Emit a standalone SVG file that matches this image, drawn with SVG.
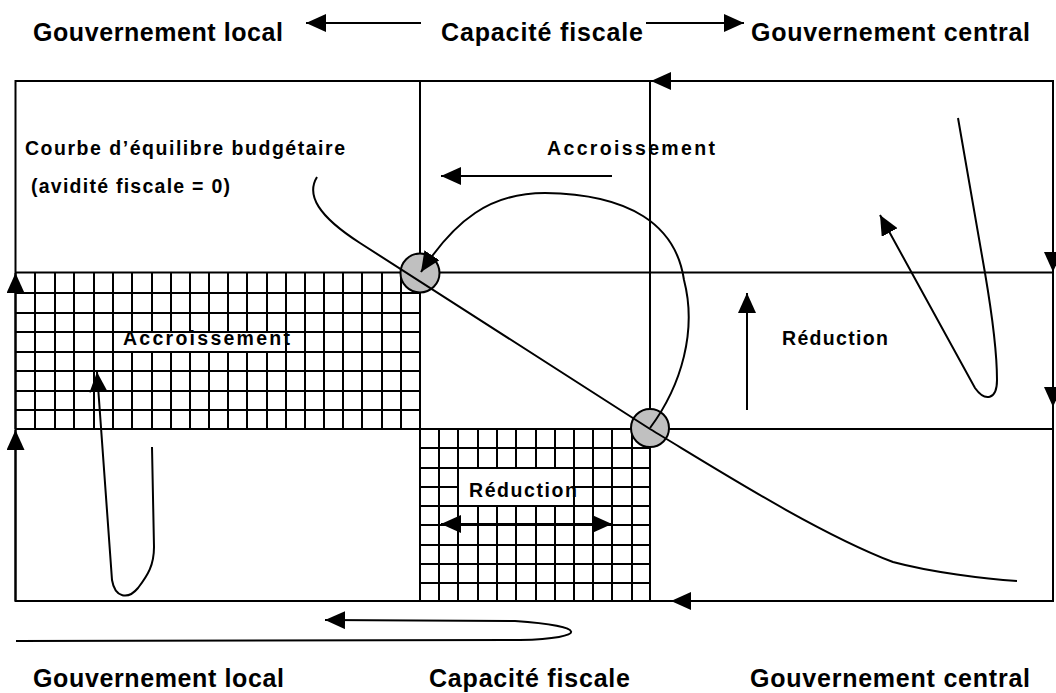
<svg xmlns="http://www.w3.org/2000/svg" width="1056" height="693" viewBox="0 0 1056 693">
<style>
.ln{stroke:#000;stroke-width:2;fill:none}
.gr{stroke:#000;stroke-width:2;fill:none}
.arr{stroke:#000;stroke-width:2;fill:none;marker-end:url(#ah)}
.t{font-family:"Liberation Sans",Arial,sans-serif;font-weight:bold;fill:#000}
.h{font-size:25px}
.s{font-size:19.5px}
.dot{fill:#c0c0c0;stroke:#000;stroke-width:2}
</style>
<defs>
<marker id="ah" markerUnits="userSpaceOnUse" markerWidth="20" markerHeight="18" refX="20" refY="9" orient="auto" viewBox="0 0 20 18">
<path d="M0,0 L20,9 L0,18 z" fill="#000"/>
</marker>
<marker id="ahs" markerUnits="userSpaceOnUse" markerWidth="20" markerHeight="18" refX="0" refY="9" orient="auto" viewBox="0 0 20 18">
<path d="M20,0 L0,9 L20,18 z" fill="#000"/>
</marker>
</defs>
<rect width="1056" height="693" fill="#fff"/>

<g id="frame">
<rect x="15.5" y="81" width="1037.5" height="520" class="ln"/>
<line x1="420" y1="81" x2="420" y2="601" class="ln"/>
<line x1="650" y1="81" x2="650" y2="601" class="ln"/>
<line x1="15" y1="272.5" x2="1053" y2="272.5" class="ln"/>
<line x1="15" y1="429" x2="1053" y2="429" class="ln"/>
</g>

<g id="grid-local">
<path class="gr" d="M35 273V429M55 273V429M74 273V429M94 273V429M113 273V429M132 273V429M152 273V429M171 273V429M190 273V429M209 273V429M228 273V429M247 273V429M267 273V429M286 273V429M305 273V429M324 273V429M343 273V429M362 273V429M382 273V429M401 273V429M15 293H420M15 313H420M15 332H420M15 352H420M15 371H420M15 391H420M15 410H420"/>
<rect x="121" y="333" width="163" height="18" fill="#fff"/>
<text class="t s" x="123" y="344.5" textLength="167">Accroissement</text>
</g>

<g id="grid-central">
<path class="gr" d="M439 429V601M458 429V601M478 429V601M497 429V601M516 429V601M536 429V601M555 429V601M574 429V601M593 429V601M612 429V601M632 429V601M420 448H650M420 468H650M420 487H650M420 506H650M420 525H650M420 545H650M420 564H650M420 583H650"/>
<rect x="459" y="469" width="114" height="36" fill="#fff"/>
<text class="t s" x="469" y="497" textLength="108">Réduction</text>
</g>

<g id="header">
<text class="t h" x="33" y="41" textLength="250">Gouvernement local</text>
<text class="t h" x="441" y="41" textLength="202">Capacité fiscale</text>
<text class="t h" x="751" y="41" textLength="279">Gouvernement central</text>
</g>

<g id="footer">
<text class="t h" x="33" y="687" textLength="251">Gouvernement local</text>
<text class="t h" x="429" y="687" textLength="201">Capacité fiscale</text>
<text class="t h" x="750" y="687" textLength="280">Gouvernement central</text>
</g>

<g id="labels">
<text class="t s" x="25" y="155" textLength="320">Courbe d’équilibre budgétaire</text>
<text class="t s" x="31" y="193" textLength="199">(avidité fiscale = 0)</text>
<text class="t s" x="547" y="155" textLength="168">Accroissement</text>
<text class="t s" x="782" y="345" textLength="106">Réduction</text>
</g>

<g id="connectors">
<line x1="421" y1="23" x2="306" y2="23" class="arr"/>
<line x1="646" y1="23" x2="744" y2="23" class="arr"/>
<line x1="1053" y1="81" x2="651" y2="81" class="arr"/>
<line x1="1053" y1="81" x2="1053" y2="272" class="arr"/>
<line x1="1053" y1="272" x2="1053" y2="407" class="arr"/>
<line x1="15.5" y1="429" x2="15.5" y2="273" class="arr"/>
<line x1="15.5" y1="601" x2="15.5" y2="430" class="arr"/>
<line x1="1053" y1="601" x2="671" y2="601" class="arr"/>
<line x1="612" y1="176" x2="441" y2="176" class="arr"/>
<line x1="747" y1="410" x2="747" y2="293" class="arr"/>
<line x1="441" y1="524" x2="612" y2="524" class="arr" marker-start="url(#ahs)"/>
<path class="arr" d="M958 118 L985 273 C993 320 997 355 997 380 C997 400 985 402 975 388 L880 215"/>
<path class="arr" d="M152 447 L154 547 C154 565 148 575 138 588 C128 600 115 598 112 580 L97 372"/>
<path class="arr" d="M16 641 L520 640 C590 638 588 626 515 621 L325 620"/>
</g>

<g id="equilibrium-points">
<circle id="p1" cx="420" cy="273" r="19.5" class="dot"/>
<circle id="p2" cx="650" cy="428" r="19" class="dot"/>
</g>

<g id="curves">
<path class="ln" d="M317 177 C306 195 318 216 360 243 L650 429 C715 468 815 532 893 562 C930 572 985 579 1017 581"/>
<path class="arr" d="M650 428 C682 385 697 330 684 280 C676 225 630 194 545 193 C490 193 455 220 421 272"/>
</g>
</svg>
